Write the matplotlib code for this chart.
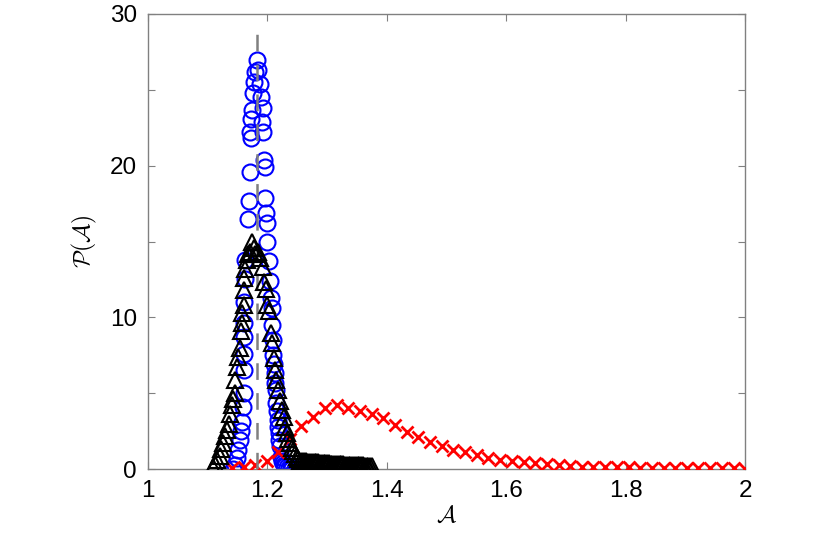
import matplotlib
matplotlib.use("Agg")
import matplotlib.pyplot as plt

plt.rcParams['font.family'] = ['Liberation Sans', 'DejaVu Sans']
plt.rcParams['mathtext.fontset'] = 'cm'
plt.rcParams['lines.scale_dashes'] = False

# ---------------- data ----------------
# red crosses
red_x = [1.140, 1.160, 1.179, 1.199, 1.218, 1.238, 1.257, 1.277, 1.296, 1.316,
         1.335, 1.355, 1.375, 1.394, 1.414, 1.433, 1.453, 1.472, 1.492, 1.511,
         1.531, 1.551, 1.570, 1.590, 1.609, 1.629, 1.648, 1.668, 1.688, 1.707,
         1.727, 1.746, 1.766, 1.785, 1.805, 1.824, 1.844, 1.864, 1.883, 1.903,
         1.922, 1.942, 1.961, 1.981, 2.000]
red_y = [0.05, 0.12, 0.26, 0.55, 1.14, 2.00, 2.83, 3.45, 4.00, 4.20,
         4.00, 3.85, 3.63, 3.34, 2.90, 2.46, 2.13, 1.80, 1.52, 1.25,
         1.10, 0.92, 0.74, 0.59, 0.53, 0.44, 0.37, 0.31, 0.24, 0.20,
         0.15, 0.13, 0.12, 0.11, 0.10, 0.09, 0.08, 0.07, 0.06, 0.06,
         0.05, 0.05, 0.04, 0.04, 0.03]

# blue circles
blue_x = [1.143, 1.146, 1.149, 1.151, 1.154, 1.156, 1.157, 1.159, 1.160, 1.160,
          1.160, 1.161, 1.161, 1.161, 1.162, 1.163, 1.168, 1.169, 1.171, 1.172,
          1.171, 1.173, 1.174, 1.176, 1.178, 1.179, 1.182,
          1.185, 1.188, 1.190, 1.193, 1.191, 1.193, 1.195, 1.196, 1.196, 1.198,
          1.199, 1.199, 1.203, 1.204, 1.206, 1.207, 1.208, 1.209, 1.210, 1.211,
          1.212, 1.213, 1.214, 1.215, 1.216, 1.217, 1.218, 1.219, 1.220, 1.221,
          1.222, 1.224, 1.226, 1.228, 1.230, 1.233, 1.236, 1.239, 1.242, 1.246,
          1.250, 1.254, 1.258, 1.262, 1.266]
blue_y = [0.00, 0.26, 0.70, 1.25, 1.90, 2.50, 3.10, 4.10, 5.00, 6.50,
          7.60, 8.70, 9.60, 11.0, 12.5, 13.8, 16.5, 17.7, 19.6, 21.8,
          22.2, 23.1, 23.7, 24.8, 25.5, 26.2, 26.96,
          26.3, 25.4, 24.5, 23.8, 22.9, 22.2, 20.4, 19.9, 17.9, 16.85,
          16.2, 15.0, 13.7, 12.4, 11.3, 10.6, 9.5, 8.5, 7.5, 6.9,
          6.3, 5.7, 5.2, 4.35, 3.8, 3.2, 2.8, 2.4, 1.9, 1.5,
          0.80, 0.55, 0.38, 0.27, 0.19, 0.13, 0.09, 0.06, 0.04, 0.03,
          0.02, 0.01, 0.01, 0.00, 0.00]

# black triangles
black_x = [1.109, 1.112, 1.116, 1.120, 1.123, 1.126, 1.129, 1.132, 1.135, 1.137,
           1.140, 1.142, 1.146, 1.146, 1.149, 1.151, 1.154, 1.155, 1.157, 1.158,
           1.160, 1.160, 1.161, 1.163, 1.165, 1.167, 1.171, 1.174, 1.177, 1.180,
           1.184, 1.188, 1.192, 1.194, 1.197, 1.200, 1.203, 1.206, 1.208, 1.211,
           1.213, 1.215, 1.218, 1.221, 1.224, 1.227, 1.229, 1.232, 1.235, 1.238,
           1.241, 1.243, 1.246, 1.249, 1.252, 1.255,
           1.258, 1.261, 1.264, 1.267, 1.270, 1.273, 1.276, 1.279, 1.282, 1.285,
           1.288, 1.291, 1.294, 1.297, 1.300, 1.303, 1.306, 1.309, 1.312, 1.315,
           1.318, 1.321, 1.324, 1.327, 1.330, 1.333, 1.336, 1.339, 1.342, 1.345,
           1.348, 1.351, 1.354, 1.357, 1.360, 1.363, 1.366, 1.369, 1.372, 1.375]
black_y = [0.15, 0.30, 0.60, 0.85, 1.30, 1.70, 2.20, 2.60, 3.00, 3.60,
           4.20, 4.60, 5.00, 5.90, 6.70, 7.40, 8.00, 9.10, 9.60, 10.3,
           10.8, 11.8, 12.6, 13.2, 13.8, 14.2, 14.3, 15.0, 14.6, 14.2,
           14.3, 13.9, 13.3, 12.3, 11.9, 10.8, 10.4, 9.00, 8.30, 7.30,
           6.50, 5.90, 5.20, 4.50, 3.90, 3.40, 2.80, 2.35, 2.00, 1.70,
           1.40, 1.20, 1.00, 0.80, 0.65, 0.55,
           0.52, 0.51, 0.50, 0.49, 0.48, 0.47, 0.46, 0.45, 0.44, 0.43,
           0.42, 0.41, 0.40, 0.39, 0.38, 0.37, 0.36, 0.35, 0.34, 0.33,
           0.32, 0.31, 0.31, 0.30, 0.29, 0.29, 0.28, 0.27, 0.27, 0.26,
           0.26, 0.25, 0.25, 0.24, 0.24, 0.23, 0.23, 0.22, 0.22, 0.21]

vline_x = 1.182

x_ticks = [1, 1.2, 1.4, 1.6, 1.8, 2]
x_ticklabels = ['1', '1.2', '1.4', '1.6', '1.8', '2']
y_ticks = [0, 5, 10, 15, 20, 25, 30]
y_ticklabels = ['0', '', '10', '', '20', '', '30']

# ---------------- figure ----------------
fig = plt.figure(figsize=(8.30, 5.34), dpi=100)
ax = fig.add_axes([148 / 830, 65 / 534, 597 / 830, 455 / 534])

ax.plot(blue_x, blue_y, linestyle='none', marker='o', markersize=11.5,
        markerfacecolor='none', markeredgecolor=(0, 0, 1), markeredgewidth=1.5, zorder=2)
ax.plot(red_x, red_y, linestyle='none', marker='x', markersize=8.5,
        markeredgecolor=(1, 0, 0), markeredgewidth=2.0, zorder=3)
ax.plot([vline_x, vline_x], [0, 29.5], color=(0.5, 0.5, 0.5), linewidth=1.8,
        dashes=(12, 9.5), zorder=4)
ax.plot(black_x, black_y, linestyle='none', marker='^', markersize=11.5,
        markerfacecolor='none', markeredgecolor='black', markeredgewidth=1.5, zorder=5)

ax.set_xlim(1, 2)
ax.set_ylim(0, 30)
ax.set_xticks(x_ticks)
ax.set_xticklabels(x_ticklabels)
ax.set_yticks(y_ticks)
ax.set_yticklabels(y_ticklabels)

for s in ax.spines.values():
    s.set_color((0.5, 0.5, 0.5))
    s.set_linewidth(1.0)
ax.tick_params(direction='in', length=5, width=0.8, colors=(0.5, 0.5, 0.5),
               labelcolor='black', labelsize=17.5, pad=8, top=True, right=True)

ax.set_xlabel(r'$\mathcal{A}$', fontsize=17, labelpad=2)
ax.set_ylabel(r'$\mathcal{P}(\mathcal{A})$', fontsize=17, labelpad=8)

fig.savefig('out.png', dpi=100)
